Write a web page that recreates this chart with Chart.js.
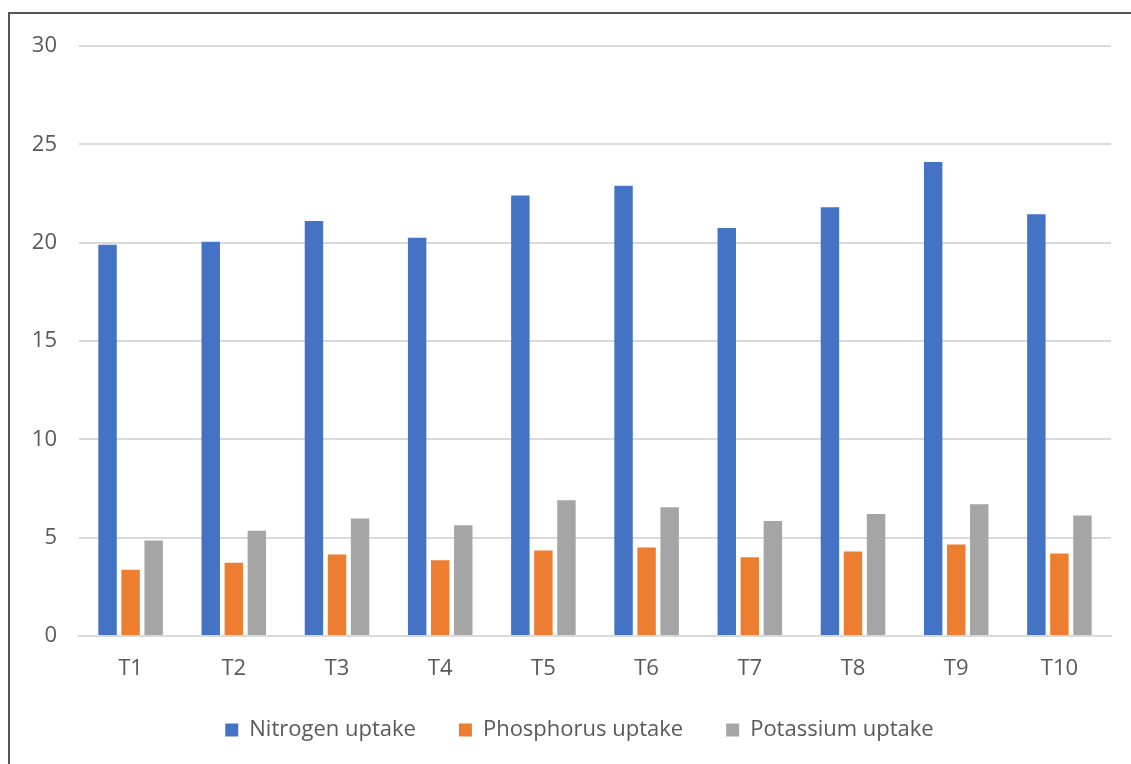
<!DOCTYPE html>
<html>
<head>
<meta charset="utf-8">
<script src="https://cdn.jsdelivr.net/npm/chart.js@4"></script>
<style>
  html, body { margin: 0; padding: 0; background: #fff; }
  #frame { position: absolute; left: 8px; top: 12px; width: 1130px; height: 760px;
           border-left: 2px solid #555; border-top: 2px solid #555; box-sizing: border-box; }
  #wrap { position: absolute; left: 0; top: 0; width: 1131px; height: 764px; }
</style>
</head>
<body>
<div id="frame"></div>
<div id="wrap"><canvas id="c" width="1131" height="764"></canvas></div>
<script>
// Nutrient uptake by treatment
const categories = ['T1', 'T2', 'T3', 'T4', 'T5', 'T6', 'T7', 'T8', 'T9', 'T10'];
const nitrogenUptake   = [19.9, 20.05, 21.1, 20.25, 22.4, 22.9, 20.75, 21.8, 24.1, 21.45];
const phosphorusUptake = [3.37, 3.72, 4.15, 3.85, 4.35, 4.5, 4.0, 4.3, 4.65, 4.2];
const potassiumUptake  = [4.85, 5.35, 5.98, 5.63, 6.9, 6.55, 5.85, 6.2, 6.7, 6.13];
const yTicks = [0, 5, 10, 15, 20, 25, 30];

const textColor = '#595959';
const gridColor = '#d9d9d9';
const fontFamily = '"Open Sans", "Liberation Sans", sans-serif';
const fontSize = 22;

// Nudge the legend so it is centred under the plot rather than the whole canvas
const legendOffset = {
  id: 'legendOffset',
  afterLayout(chart) {
    if (chart.legend) chart.legend.left = 48;
  }
};

new Chart(document.getElementById('c'), {
  type: 'bar',
  data: {
    labels: categories,
    datasets: [
      { label: 'Nitrogen uptake', data: nitrogenUptake, backgroundColor: '#4472c4' },
      { label: 'Phosphorus uptake', data: phosphorusUptake, backgroundColor: '#ed7d31' },
      { label: 'Potassium uptake', data: potassiumUptake, backgroundColor: '#a5a5a5' }
    ]
  },
  plugins: [legendOffset],
  options: {
    responsive: false,
    animation: false,
    layout: { padding: { left: 0, right: 20, top: 46, bottom: 13 } },
    datasets: { bar: { categoryPercentage: 0.67, barPercentage: 0.8 } },
    plugins: {
      tooltip: { enabled: false },
      legend: {
        position: 'bottom',
        labels: {
          color: textColor,
          font: { family: fontFamily, size: fontSize },
          boxWidth: 13,
          boxHeight: 13,
          padding: 43
        }
      }
    },
    scales: {
      x: {
        grid: { display: false, drawTicks: false },
        border: { display: true, color: gridColor, width: 2 },
        ticks: { color: textColor, font: { family: fontFamily, size: fontSize }, padding: 20 },
        afterFit: (scale) => { scale.height = 40; }
      },
      y: {
        min: 0,
        max: 30,
        afterBuildTicks: (scale) => { scale.ticks = yTicks.map(v => ({ value: v })); },
        grid: { color: gridColor, lineWidth: 2, drawTicks: false },
        border: { display: false },
        ticks: { color: textColor, font: { family: fontFamily, size: fontSize }, padding: 22 },
        afterFit: (scale) => { scale.width = 79; }
      }
    }
  }
});
</script>
</body>
</html>
